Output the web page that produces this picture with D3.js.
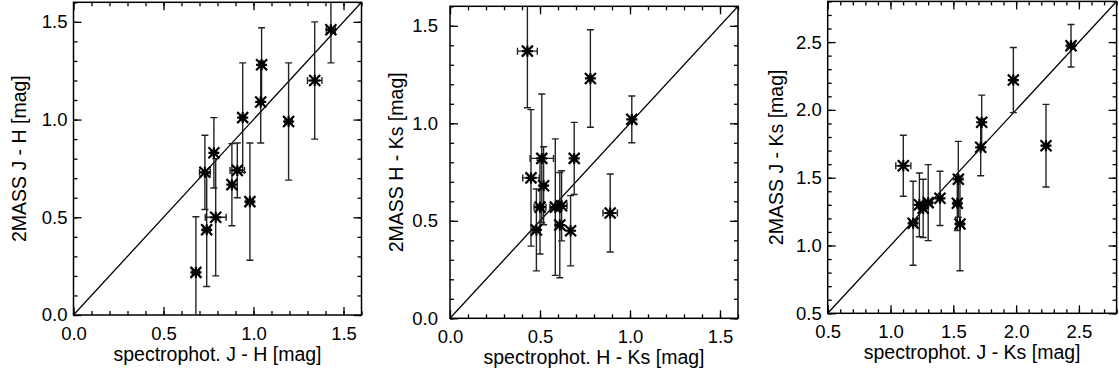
<!DOCTYPE html>
<html>
<head>
<title>2MASS vs spectrophot colours</title>
<script src="https://d3js.org/d3.v7.min.js"></script>
<style type="text/css">
	body{ margin:0; background:white; }
	.box{ fill:none; stroke:black; stroke-width:1.5; }
	.diag{ fill:none; stroke:black; stroke-width:1.3; }
	.err{ fill:none; stroke:#222; stroke-width:1.4; }
	.star{ fill:none; stroke:black; stroke-width:2.2; }
	.tick line{ stroke:black; stroke-width:1.3; }
	.ttl{ font-family:"Liberation Sans", Arial, sans-serif; font-size:19.5px; fill:black; }
</style>
</head>
<body>
<svg id="chart" width="1119" height="375"></svg>
<script>
// panel 1 : J - H
var jhSpec    = [1.43, 1.34, 1.195, 1.045, 1.04, 0.94, 0.78, 0.73, 0.91, 0.88, 0.98, 0.79, 0.74, 0.68];
var jhMass    = [1.46, 1.20, 0.99, 1.28, 1.09, 1.01, 0.83, 0.73, 0.74, 0.667, 0.58, 0.50, 0.436, 0.218];
var jhSpecErr = [0.025, 0.04, 0.02, 0.015, 0.015, 0.015, 0.015, 0.03, 0.04, 0.015, 0.02, 0.058, 0.02, 0.02];
var jhMassErr = [0.17, 0.30, 0.30, 0.19, 0.21, 0.28, 0.18, 0.19, 0.14, 0.21, 0.30, 0.30, 0.29, 0.285];

// panel 2 : H - Ks
var hkSpec    = [0.43, 0.78, 1.01, 0.51, 0.69, 0.45, 0.52, 0.50, 0.585, 0.62, 0.61, 0.67, 0.48, 0.89];
var hkMass    = [1.37, 1.23, 1.02, 0.82, 0.82, 0.72, 0.68, 0.57, 0.57, 0.577, 0.478, 0.449, 0.453, 0.54];
var hkSpecErr = [0.055, 0.01, 0.01, 0.065, 0.01, 0.046, 0.015, 0.033, 0.03, 0.03, 0.015, 0.01, 0.02, 0.04];
var hkMassErr = [0.29, 0.25, 0.12, 0.33, 0.185, 0.35, 0.20, 0.24, 0.35, 0.18, 0.27, 0.18, 0.21, 0.20];

// panel 3 : J - Ks
var jkSpec    = [2.437, 1.978, 2.238, 1.726, 1.718, 1.102, 1.54, 1.532, 1.553, 1.18, 1.23, 1.26, 1.30, 1.394];
var jkMass    = [2.473, 2.22, 1.736, 1.909, 1.724, 1.588, 1.488, 1.311, 1.159, 1.164, 1.30, 1.274, 1.316, 1.348];
var jkSpecErr = [0.03, 0.02, 0.02, 0.02, 0.02, 0.06, 0.02, 0.03, 0.03, 0.03, 0.02, 0.02, 0.03, 0.02];
var jkMassErr = [0.157, 0.24, 0.305, 0.20, 0.21, 0.225, 0.28, 0.20, 0.345, 0.31, 0.235, 0.215, 0.28, 0.20];

var ticksLow  = [0.0, 0.5, 1.0, 1.5];
var ticksHigh = [0.5, 1.0, 1.5, 2.0, 2.5];

var svg = d3.select("#chart");

var panels = [
	{ xs:jhSpec, ys:jhMass, xe:jhSpecErr, ye:jhMassErr, dom:[0,1.6], major:ticksLow,
	  left:73.5, right:361.5, bottom:315, top:2.3, labGap:6, ttlOff:48,
	  xTitle:"spectrophot. J - H [mag]", yTitle:"2MASS J - H [mag]" },
	{ xs:hkSpec, ys:hkMass, xe:hkSpecErr, ye:hkMassErr, dom:[0,1.6], major:ticksLow,
	  left:450, right:738, bottom:318.3, top:6.3, labGap:12, ttlOff:47,
	  xTitle:"spectrophot. H - Ks [mag]", yTitle:"2MASS H - Ks [mag]" },
	{ xs:jkSpec, ys:jkMass, xe:jkSpecErr, ye:jkMassErr, dom:[0.5,2.8], major:ticksHigh,
	  left:827.7, right:1116.6, bottom:313.3, top:1.4, labGap:6, ttlOff:45,
	  xTitle:"spectrophot. J - Ks [mag]", yTitle:"2MASS J - Ks [mag]" }
];

panels.forEach(function(p, k){
	var x = d3.scaleLinear().domain(p.dom).range([p.left, p.right]);
	var y = d3.scaleLinear().domain(p.dom).range([p.bottom, p.top]);
	var minor = d3.range(p.dom[0], p.dom[1] + 1e-9, 0.1);
	var fmt = d3.format(".1f");

	svg.append("clipPath").attr("id", "clip" + k)
		.append("rect")
		.attr("x", p.left).attr("y", p.top)
		.attr("width", p.right - p.left).attr("height", p.bottom - p.top);

	// axes, IDL style: inward ticks on all four sides
	function styleAxis(g){
		g.select(".domain").remove();
		g.attr("font-family", "Liberation Sans, Arial, sans-serif").attr("font-size", 18.5);
		g.selectAll("text").attr("fill", "black");
	}
	svg.append("g").attr("transform", "translate(0," + p.bottom + ")")
		.call(d3.axisBottom(x).tickValues(p.major).tickSize(-8).tickPadding(12).tickFormat(fmt)).call(styleAxis);
	svg.append("g").attr("transform", "translate(0," + p.bottom + ")")
		.call(d3.axisBottom(x).tickValues(minor).tickSize(-4).tickFormat("")).call(styleAxis);
	svg.append("g").attr("transform", "translate(0," + p.top + ")")
		.call(d3.axisTop(x).tickValues(p.major).tickSize(-8).tickFormat("")).call(styleAxis);
	svg.append("g").attr("transform", "translate(0," + p.top + ")")
		.call(d3.axisTop(x).tickValues(minor).tickSize(-4).tickFormat("")).call(styleAxis);
	svg.append("g").attr("transform", "translate(" + p.left + ",0)")
		.call(d3.axisLeft(y).tickValues(p.major).tickSize(-8).tickPadding(p.labGap).tickFormat(fmt)).call(styleAxis);
	svg.append("g").attr("transform", "translate(" + p.left + ",0)")
		.call(d3.axisLeft(y).tickValues(minor).tickSize(-4).tickFormat("")).call(styleAxis);
	svg.append("g").attr("transform", "translate(" + p.right + ",0)")
		.call(d3.axisRight(y).tickValues(p.major).tickSize(-8).tickFormat("")).call(styleAxis);
	svg.append("g").attr("transform", "translate(" + p.right + ",0)")
		.call(d3.axisRight(y).tickValues(minor).tickSize(-4).tickFormat("")).call(styleAxis);

	svg.append("rect").attr("class", "box")
		.attr("x", p.left).attr("y", p.top)
		.attr("width", p.right - p.left).attr("height", p.bottom - p.top);

	var plot = svg.append("g").attr("clip-path", "url(#clip" + k + ")");

	// one-to-one line
	plot.append("line").attr("class", "diag")
		.attr("x1", x(p.dom[0])).attr("y1", y(p.dom[0]))
		.attr("x2", x(p.dom[1])).attr("y2", y(p.dom[1]));

	var idx = d3.range(p.xs.length);
	var cap = 3.5;
	plot.selectAll(".err").data(idx).enter().append("path")
		.attr("class", "err")
		.attr("d", function(i){
			var cx = x(p.xs[i]), cy = y(p.ys[i]);
			var yt = y(p.ys[i] + p.ye[i]), yb = y(p.ys[i] - p.ye[i]);
			var xl = x(p.xs[i] - p.xe[i]), xr = x(p.xs[i] + p.xe[i]);
			return "M" + cx + "," + yt + "V" + yb +
				"M" + (cx - cap) + "," + yt + "H" + (cx + cap) +
				"M" + (cx - cap) + "," + yb + "H" + (cx + cap) +
				"M" + xl + "," + cy + "H" + xr +
				"M" + xl + "," + (cy - cap) + "V" + (cy + cap) +
				"M" + xr + "," + (cy - cap) + "V" + (cy + cap);
		});

	var s = 5.5;
	plot.selectAll(".star").data(idx).enter().append("path")
		.attr("class", "star")
		.attr("d", function(i){
			var cx = x(p.xs[i]), cy = y(p.ys[i]);
			return "M" + (cx - s) + "," + (cy - s) + "L" + (cx + s) + "," + (cy + s) +
				"M" + (cx - s) + "," + (cy + s) + "L" + (cx + s) + "," + (cy - s) +
				"M" + (cx - s) + "," + cy + "H" + (cx + s) +
				"M" + cx + "," + (cy - s) + "V" + (cy + s);
		});

	svg.append("text").attr("class", "ttl")
		.attr("x", (p.left + p.right) / 2).attr("y", p.bottom + 46)
		.attr("text-anchor", "middle")
		.text(p.xTitle);
	svg.append("text").attr("class", "ttl")
		.attr("transform", "translate(" + (p.left - p.ttlOff) + "," + ((p.top + p.bottom) / 2) + ") rotate(-90)")
		.attr("text-anchor", "middle")
		.text(p.yTitle);
});
</script>
</body>
</html>
